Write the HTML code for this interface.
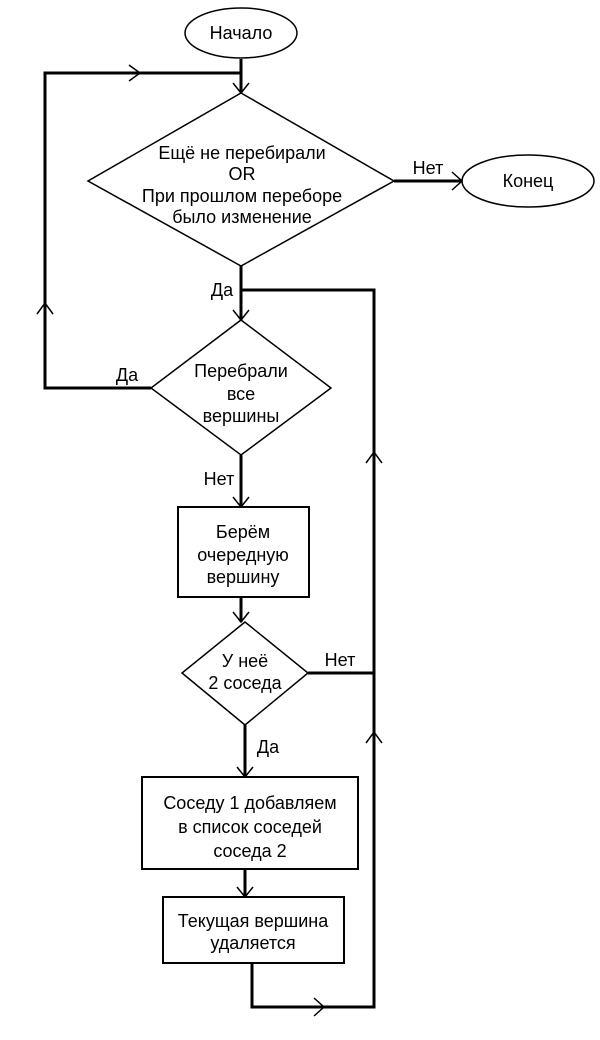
<!DOCTYPE html>
<html><head><meta charset="utf-8"><style>
html,body{margin:0;padding:0;background:#fff}
svg{display:block}
text{font-family:"Liberation Sans","DejaVu Sans",sans-serif;font-size:18px;fill:#000;text-anchor:middle}
</style></head><body>
<svg width="600" height="1040" viewBox="0 0 600 1040">
<g fill="none" stroke="#000" stroke-width="3">
<line x1="241" y1="59" x2="241" y2="93"/>
<polyline points="241,73 45,73 45,388 151,388"/>
<polyline points="241,266 241,320"/>
<polyline points="241,290 374,290 374,1007 252,1007 252,963"/>
<line x1="394" y1="181" x2="462" y2="181"/>
<line x1="241" y1="455" x2="241" y2="507"/>
<line x1="241" y1="597" x2="241" y2="622"/>
<line x1="308" y1="673" x2="374" y2="673"/>
<line x1="245" y1="725" x2="245" y2="777"/>
<line x1="245" y1="869" x2="245" y2="897"/>
</g>
<g fill="none" stroke="#000" stroke-width="1.5">
<ellipse cx="241" cy="33" rx="56" ry="25"/>
<ellipse cx="528" cy="181" rx="66" ry="26"/>
<polygon points="241,93 394,181 241,266 88,181"/>
<polygon points="241,320 331,388 241,455 151,388"/>
<polygon points="245,622 308,673 245,725 182,673"/>
</g>
<g fill="#fff" stroke="#000" stroke-width="2">
<rect x="178" y="507" width="131" height="90"/>
<rect x="142" y="777" width="216" height="92"/>
<rect x="163" y="897" width="181" height="66"/>
</g>
<g fill="none" stroke="#000" stroke-width="1.5">
<polyline points="233,83 241,93 249,83"/>
<polyline points="129,65 140,73 129,81"/>
<polyline points="37,314 45,303 53,314"/>
<polyline points="452,172 462,181 452,190"/>
<polyline points="233,310 241,320 249,310"/>
<polyline points="366,463 374,452 382,463"/>
<polyline points="366,743 374,732 382,743"/>
<polyline points="233,497 241,507 249,497"/>
<polyline points="233,612 241,622 249,612"/>
<polyline points="237,767 245,777 253,767"/>
<polyline points="237,887 245,897 253,887"/>
<polyline points="314,998 324,1007 314,1016"/>
</g>
<text x="241" y="39">Начало</text>
<text x="528" y="187">Конец</text>
<text x="242" y="159">Ещё не перебирали</text>
<text x="242" y="180">OR</text>
<text x="242" y="202">При прошлом переборе</text>
<text x="242" y="223">было изменение</text>
<text x="428" y="174">Нет</text>
<text x="222" y="296">Да</text>
<text x="127" y="381">Да</text>
<text x="241" y="377">Перебрали</text>
<text x="241" y="400">все</text>
<text x="241" y="422">вершины</text>
<text x="219" y="485">Нет</text>
<text x="243" y="538">Берём</text>
<text x="243" y="561">очередную</text>
<text x="243" y="583">вершину</text>
<text x="245" y="667">У неё</text>
<text x="245" y="689">2 соседа</text>
<text x="340" y="666">Нет</text>
<text x="268" y="753">Да</text>
<text x="250" y="809">Соседу 1 добавляем</text>
<text x="250" y="833">в список соседей</text>
<text x="250" y="857">соседа 2</text>
<text x="253" y="927">Текущая вершина</text>
<text x="253" y="949">удаляется</text>
</svg>
</body></html>
